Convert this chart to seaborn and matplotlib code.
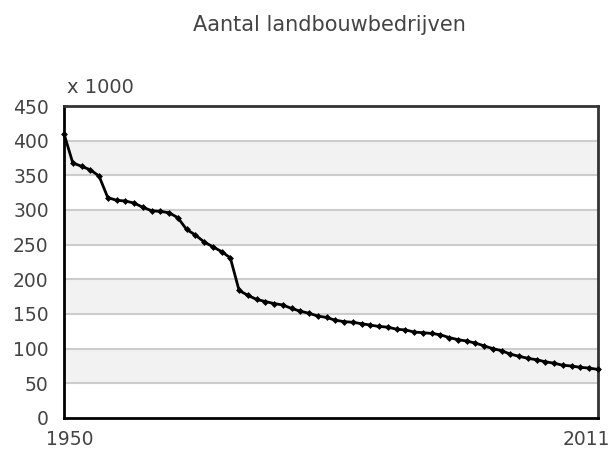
import seaborn as sns
import numpy as np
import pandas as pd
import matplotlib.pyplot as plt
import matplotlib.transforms as mtransforms

sns.set_style('white')
plt.rcParams['font.family'] = ['DejaVu Sans']

# aantal landbouwbedrijven (x 1000), 1950-2011
years = list(range(1950, 2012))
bedrijven = [410, 368, 363, 358, 349, 318, 314, 313, 310, 304,
             299, 298, 296, 289, 272, 264, 254, 247, 240, 231,
             184, 177, 171, 168, 165, 163, 158, 154, 151, 147,
             145, 141, 139, 138, 136, 134, 132, 131, 128, 127,
             124, 123, 122, 120, 116, 113, 111, 108, 104, 100,
             97, 92, 89, 86, 84, 81, 79, 76, 75, 73,
             72, 70]
y_ticks = [0, 50, 100, 150, 200, 250, 300, 350, 400, 450]
x_ticks = [1950, 2011]

df = pd.DataFrame({'Jaar': years, 'Aantal': bedrijven})

fig = plt.figure(figsize=(6.13, 4.53), dpi=100)
ax = fig.add_axes([0.1044, 0.0773, 0.8711, 0.6887])

# grijze banden om en om
for lo in [50, 150, 250, 350]:
    ax.axhspan(lo, lo + 50, color='#f2f2f2', zorder=0, lw=0)
for t in y_ticks[1:-1]:
    ax.axhline(t, color='#cccccc', lw=1.5, zorder=1)

sns.lineplot(data=df, x='Jaar', y='Aantal', ax=ax, color='black', lw=2,
             marker='D', markersize=3.5, markeredgewidth=0, zorder=3,
             clip_on=False)

ax.set_xlim(1950, 2011)
ax.set_ylim(0, 450)
ax.set_yticks(y_ticks)
ax.set_xticks(x_ticks)
ax.set_xlabel('')
ax.set_ylabel('')
ax.tick_params(length=0, labelsize=13.5, labelcolor='#444444')
ax.tick_params(axis='y', pad=11)
ax.tick_params(axis='x', pad=9)
labels = ax.get_xticklabels()
labels[0].set_transform(labels[0].get_transform() +
                        mtransforms.ScaledTranslation(0.06, 0, fig.dpi_scale_trans))
labels[-1].set_horizontalalignment('right')
labels[-1].set_transform(labels[-1].get_transform() +
                         mtransforms.ScaledTranslation(0.12, 0, fig.dpi_scale_trans))

for s in ['left', 'bottom']:
    ax.spines[s].set_color('black')
    ax.spines[s].set_linewidth(2)
for s in ['top', 'right']:
    ax.spines[s].set_color('#333333')
    ax.spines[s].set_linewidth(2)

ax.text(0.005, 1.03, 'x 1000', transform=ax.transAxes, fontsize=14,
        color='#444444', va='bottom', ha='left')
fig.text(0.537, 0.945, 'Aantal landbouwbedrijven', fontsize=15,
         color='#444444', ha='center', va='center')

plt.savefig('out.png', dpi=100)
